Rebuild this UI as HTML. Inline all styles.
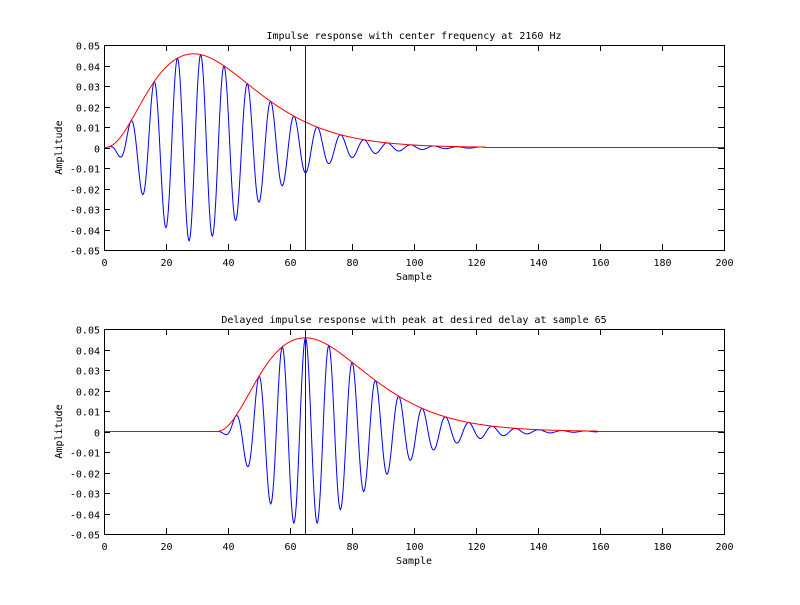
<!DOCTYPE html>
<html><head><meta charset="utf-8"><style>
html,body{margin:0;padding:0;background:#fff;}
svg text{font-family:"DejaVu Sans Mono","Liberation Mono",monospace;font-size:10px;fill:#000;}
</style></head><body>
<svg id="s" width="800" height="600" xmlns="http://www.w3.org/2000/svg"></svg>
<script>
const s=document.getElementById('s');
let h='<rect width="800" height="600" fill="#fff"/>';
function env(t){if(t<0||t>123)return 0;const u=t/29;const n=t<29?2.5:3;return 0.0457*Math.pow(u,n)*Math.exp(-n*(u-1));}
function axes(y0,title,shift,pk){
  const x0=104,x1=724,y1=y0+205,zy=y0+102.5;
  const X=t=>x0+t*3.1, Y=v=>zy-v*2050;
  let b='',r='';
  for(let k=0;k<=800;k++){const t=k/4;const tt=t-shift;
    const sv=env(tt)*Math.cos(2*Math.PI/7.53*(t-pk));
    b+=(k?'L':'M')+X(t).toFixed(2)+' '+Y(sv).toFixed(2);r+=(k?'L':'M')+X(t).toFixed(2)+' '+Y(env(tt)).toFixed(2);}
  h+=`<path d="${b}" fill="none" stroke="#00f" stroke-width="1"/>`;
  h+=`<path d="${r}" fill="none" stroke="#f00" stroke-width="1"/>`;
  h+=`<line x1="${X(65)}" y1="${y0}" x2="${X(65)}" y2="${y1}" stroke="#00f"/>`;
  h+=`<rect x="${x0}.5" y="${y0}.5" width="${x1-x0}" height="205" fill="none" stroke="#000"/>`;
  for(let t=0;t<=200;t+=20){const x=Math.round(X(t))+0.5;
    h+=`<line x1="${x}" y1="${y1}" x2="${x}" y2="${y1-6}" stroke="#000"/><line x1="${x}" y1="${y0}" x2="${x}" y2="${y0+6}" stroke="#000"/>`;
    h+=`<text x="${x}" y="${y1+16}" text-anchor="middle">${t}</text>`;}
  for(let i=-5;i<=5;i++){const y=Math.round(Y(i/100))+0.5;
    h+=`<line x1="${x0}" y1="${y}" x2="${x0+6}" y2="${y}" stroke="#000"/><line x1="${x1}" y1="${y}" x2="${x1-6}" y2="${y}" stroke="#000"/>`;
    const l=i==0?'0':(i<0?'-':'')+'0.0'+Math.abs(i);
    h+=`<text x="${x0-4}" y="${y+4}" text-anchor="end">${l}</text>`;}
  h+=`<text x="414" y="${y0-6}" text-anchor="middle">${title}</text>`;
  h+=`<text x="414" y="${y1+30}" text-anchor="middle">Sample</text>`;
  h+=`<text transform="translate(62,${zy}) rotate(-90)" text-anchor="middle">Amplitude</text>`;
}
axes(45,'Impulse response with center frequency at 2160 Hz',0,31.2);
axes(329,'Delayed impulse response with peak at desired delay at sample 65',36,65);
s.innerHTML=h;
</script>
</body></html>
